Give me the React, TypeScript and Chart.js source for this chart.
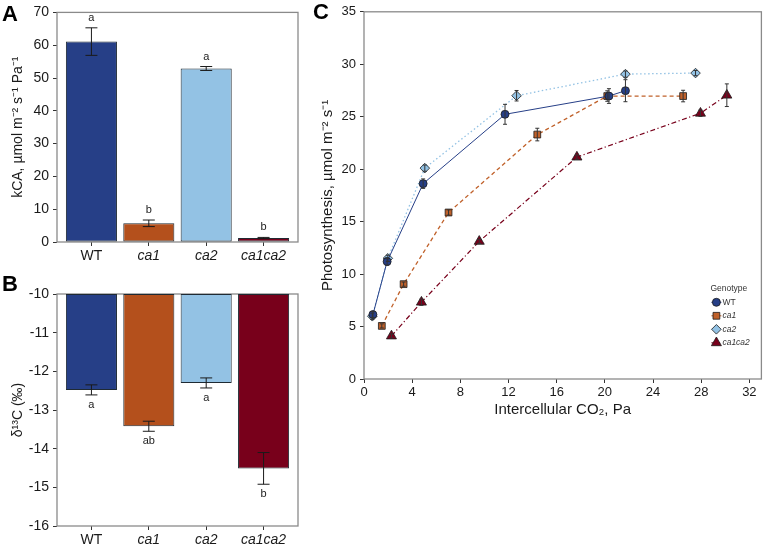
import React, { useEffect, useRef } from 'react';
import { Chart, registerables } from 'chart.js';

Chart.register(...registerables);

const FONT = "'Liberation Sans', Arial, Helvetica, sans-serif";
Chart.defaults.font.family = FONT;

// ---------- data ----------
const genotypes = ['WT', 'ca1', 'ca2', 'ca1ca2'];
const genotypeColors = ['#263f87', '#b4501c', '#93c2e4', '#78001b'];

const kcaValues = [61.1, 5.7, 52.9, 1.2];
const kcaErrors = [4.2, 1.0, 0.6, 0.2];
const kcaLetters = ['a', 'b', 'a', 'b'];
const kcaTicks = [0, 10, 20, 30, 40, 50, 60, 70];

const d13cValues = [-12.48, -13.42, -12.3, -14.51];
const d13cErrors = [0.13, 0.13, 0.13, 0.41];
const d13cLetters = ['a', 'ab', 'a', 'b'];
const d13cTicks = [-10, -11, -12, -13, -14, -15, -16];

const wtCi = [0.74, 1.92, 4.91, 11.71, 20.34, 21.71];
const wtA = [6.14, 11.19, 18.62, 25.23, 26.97, 27.48];
const wtErr = [0.3, 0.35, 0.45, 0.95, 0.7, 1.05];

const ca1Ci = [1.48, 3.29, 7.02, 14.39, 20.2, 26.5];
const ca1A = [5.06, 9.04, 15.87, 23.3, 26.97, 26.97];
const ca1Err = [0.2, 0.2, 0.25, 0.6, 0.5, 0.55];

const ca2Ci = [0.69, 1.98, 5.05, 12.67, 21.71, 27.53];
const ca2A = [5.98, 11.5, 20.1, 27.0, 29.06, 29.16];
const ca2Err = [0.3, 0.3, 0.3, 0.5, 0.3, 0.25];

const dblCi = [2.28, 4.77, 9.57, 17.68, 27.94, 30.13];
const dblA = [4.1, 7.32, 13.12, 21.15, 25.33, 27.05];
const dblErr = [0.2, 0.3, 0.2, 0.2, 0.3, 1.08];

const ciTicks = [0, 4, 8, 12, 16, 20, 24, 28, 32];
const photoTicks = [0, 5, 10, 15, 20, 25, 30, 35];

// ---------- plugins ----------
const framePlugin = {
  id: 'frame',
  beforeDatasetsDraw(chart: any) {
    const { ctx, chartArea: a } = chart;
    ctx.save();
    ctx.strokeStyle = '#8a8a8a';
    ctx.lineWidth = 1.3;
    ctx.strokeRect(a.left, a.top, a.right - a.left, a.bottom - a.top);
    ctx.restore();
  },
};

const errorPlugin = {
  id: 'errbars',
  afterDatasetsDraw(chart: any) {
    const { ctx } = chart;
    const xs = chart.scales.x;
    const ys = chart.scales.y;
    chart.data.datasets.forEach((ds: any) => {
      if (!ds.errorBars) return;
      ds.data.forEach((pt: any, i: number) => {
        const v = Array.isArray(pt.y) ? pt.y[1] : pt.y;
        const e = ds.errorBars[i];
        const x = xs.getPixelForValue(pt.x);
        const y1 = ys.getPixelForValue(v + e);
        const y2 = ys.getPixelForValue(v - e);
        const cap = ds.errorCap;
        ctx.save();
        ctx.strokeStyle = ds.errorColor || '#1a1a1a';
        ctx.lineWidth = ds.errorWidth || 1;
        ctx.beginPath();
        ctx.moveTo(x, y1);
        ctx.lineTo(x, y2);
        ctx.moveTo(x - cap, y1);
        ctx.lineTo(x + cap, y1);
        ctx.moveTo(x - cap, y2);
        ctx.lineTo(x + cap, y2);
        ctx.stroke();
        if (ds.letters) {
          ctx.fillStyle = '#222';
          ctx.font = `11px ${FONT}`;
          ctx.textAlign = 'center';
          ctx.textBaseline = 'middle';
          const ly = ds.letterSide === 'below' ? y2 + 10 : y1 - 10;
          ctx.fillText(ds.letters[i], x, ly);
        }
        ctx.restore();
      });
    });
  },
};

function drawMarker(ctx: CanvasRenderingContext2D, style: string, x: number, y: number, r: number) {
  ctx.beginPath();
  if (style === 'circle') {
    ctx.arc(x, y, r, 0, Math.PI * 2);
  } else if (style === 'rect') {
    const s = r * Math.SQRT1_2;
    ctx.rect(x - s, y - s, 2 * s, 2 * s);
  } else if (style === 'rectRot') {
    ctx.moveTo(x, y - r);
    ctx.lineTo(x + r, y);
    ctx.lineTo(x, y + r);
    ctx.lineTo(x - r, y);
    ctx.closePath();
  } else {
    const a = (2 * Math.PI) / 3;
    ctx.moveTo(x, y - r);
    ctx.lineTo(x + Math.sin(a) * r, y - Math.cos(a) * r);
    ctx.lineTo(x - Math.sin(a) * r, y - Math.cos(a) * r);
    ctx.closePath();
  }
  ctx.fill();
  ctx.stroke();
}

const legendPlugin = {
  id: 'genoLegend',
  afterDraw(chart: any) {
    const { ctx, chartArea: a } = chart;
    const x0 = a.right - 51;
    const y0 = a.top + 277;
    ctx.save();
    ctx.fillStyle = '#333';
    ctx.font = `8.5px ${FONT}`;
    ctx.textAlign = 'left';
    ctx.textBaseline = 'middle';
    ctx.fillText('Genotype', x0, y0);
    chart.data.datasets.forEach((ds: any, i: number) => {
      const y = y0 + 13.5 + i * 13.5;
      const mx = x0 + 6;
      ctx.strokeStyle = ds.borderColor;
      ctx.lineWidth = 1;
      ctx.setLineDash(ds.borderDash || []);
      ctx.beginPath();
      ctx.moveTo(mx - 5, y);
      ctx.lineTo(mx + 5, y);
      ctx.stroke();
      ctx.setLineDash([]);
      ctx.fillStyle = ds.pointBackgroundColor;
      ctx.strokeStyle = ds.pointBorderColor;
      ctx.lineWidth = 0.8;
      drawMarker(ctx, ds.pointStyle, mx, y, ds.pointRadius);
      ctx.fillStyle = '#333';
      ctx.font = `${i === 0 ? 'normal' : 'italic'} 8.5px ${FONT}`;
      ctx.fillText(ds.label, x0 + 12, y);
    });
    ctx.restore();
  },
};

// ---------- bar chart helpers ----------
const tickFont = (ctx: any) => ({ family: FONT, size: 14, style: ctx.index === 0 ? 'normal' : 'italic' });

function barOptions(yMin: number, yMax: number, yTicks: number[], yTitle: string, padTop: number, xHeight: number) {
  return {
    animation: false,
    responsive: false,
    maintainAspectRatio: false,
    layout: { padding: { top: padTop, right: 2, left: 0, bottom: 0 } },
    plugins: { legend: { display: false }, tooltip: { enabled: false } },
    scales: {
      x: {
        type: 'linear',
        min: 0.4,
        max: 4.6,
        offset: false,
        afterBuildTicks: (s: any) => {
          s.ticks = genotypes.map((_, i) => ({ value: i + 1 }));
        },
        afterFit: (s: any) => {
          s.height = xHeight;
        },
        ticks: {
          autoSkip: false,
          maxRotation: 0,
          padding: 2,
          color: '#1a1a1a',
          font: tickFont,
          callback: (v: any) => genotypes[Math.round(v) - 1],
        },
        grid: { display: true, drawOnChartArea: false, drawTicks: true, tickLength: 4, color: '#333', offset: false },
        border: { display: false },
      },
      y: {
        min: yMin,
        max: yMax,
        afterBuildTicks: (s: any) => {
          s.ticks = yTicks.map((v) => ({ value: v }));
        },
        afterFit: (s: any) => {
          s.width = 57;
        },
        ticks: { padding: 4, color: '#1a1a1a', font: { family: FONT, size: 14 } },
        grid: { display: true, drawOnChartArea: false, drawTicks: true, tickLength: 4, color: '#333' },
        border: { display: false },
        title: {
          display: true,
          text: yTitle,
          color: '#1a1a1a',
          font: { family: FONT, size: 14 },
          padding: { top: 10, bottom: 0 },
        },
      },
    },
  };
}

function KcaChart() {
  const ref = useRef<HTMLCanvasElement>(null);
  useEffect(() => {
    const chart = new Chart(ref.current as HTMLCanvasElement, {
      type: 'bar',
      data: {
        datasets: [
          {
            data: genotypes.map((_, i) => ({ x: i + 1, y: kcaValues[i] })),
            backgroundColor: genotypeColors,
            borderColor: '#1f2a33',
            borderWidth: 1,
            borderSkipped: false,
            barPercentage: 0.89,
            categoryPercentage: 1,
            clip: 3,
            errorBars: kcaErrors,
            errorCap: 6,
            letters: kcaLetters,
            letterSide: 'above',
          } as any,
        ],
      },
      options: barOptions(0, 70, kcaTicks, 'kCA, µmol m⁻² s⁻¹ Pa⁻¹', 10, 20) as any,
      plugins: [framePlugin, errorPlugin],
    });
    return () => chart.destroy();
  }, []);
  return <canvas ref={ref} width={300} height={262} style={{ position: 'absolute', left: 0, top: 0, width: 300, height: 262 }} />;
}

function D13cChart() {
  const ref = useRef<HTMLCanvasElement>(null);
  useEffect(() => {
    const chart = new Chart(ref.current as HTMLCanvasElement, {
      type: 'bar',
      data: {
        datasets: [
          {
            data: genotypes.map((_, i) => ({ x: i + 1, y: [-10, d13cValues[i]] })),
            backgroundColor: genotypeColors,
            borderColor: '#1f2a33',
            borderWidth: 1,
            borderSkipped: false,
            barPercentage: 0.89,
            categoryPercentage: 1,
            clip: 3,
            errorBars: d13cErrors,
            errorCap: 6,
            letters: d13cLetters,
            letterSide: 'below',
          } as any,
        ],
      },
      options: barOptions(-16, -10, d13cTicks, 'δ¹³C (‰)', 32, 19) as any,
      plugins: [framePlugin, errorPlugin],
    });
    return () => chart.destroy();
  }, []);
  return <canvas ref={ref} width={300} height={283} style={{ position: 'absolute', left: 0, top: 262, width: 300, height: 283 }} />;
}

function series(label: string, xs: number[], ys: number[], errs: number[], color: string, style: string, radius: number, dash: number[], lineWidth: number) {
  return {
    label,
    data: xs.map((x, i) => ({ x, y: ys[i] })),
    showLine: true,
    borderColor: color,
    borderWidth: lineWidth,
    borderDash: dash,
    pointStyle: style,
    pointRadius: radius,
    pointBackgroundColor: color,
    pointBorderColor: '#1b1b1b',
    pointBorderWidth: 0.8,
    errorBars: errs,
    errorCap: 2,
    errorColor: '#333',
    errorWidth: 1,
  };
}

function PhotoChart() {
  const ref = useRef<HTMLCanvasElement>(null);
  useEffect(() => {
    const chart = new Chart(ref.current as HTMLCanvasElement, {
      type: 'scatter',
      data: {
        datasets: [
          series('WT', wtCi, wtA, wtErr, genotypeColors[0], 'circle', 4, [], 1),
          series('ca1', ca1Ci, ca1A, ca1Err, '#c0612a', 'rect', 4.8, [4, 3], 1.3),
          series('ca2', ca2Ci, ca2A, ca2Err, genotypeColors[2], 'rectRot', 4.8, [1.5, 2.5], 1.3),
          series('ca1ca2', dblCi, dblA, dblErr, genotypeColors[3], 'triangle', 5.8, [5, 2.5, 1.2, 2.5], 1.2),
        ] as any,
      },
      options: {
        animation: false,
        responsive: false,
        maintainAspectRatio: false,
        layout: { padding: { top: 10, right: 3, left: 0, bottom: 0 } },
        plugins: { legend: { display: false }, tooltip: { enabled: false } },
        scales: {
          x: {
            type: 'linear',
            min: 0,
            max: 33,
            afterBuildTicks: (s: any) => {
              s.ticks = ciTicks.map((v) => ({ value: v }));
            },
            afterFit: (s: any) => {
              s.height = 41;
            },
            ticks: { padding: 2, color: '#1a1a1a', maxRotation: 0, autoSkip: false, font: { family: FONT, size: 13 } },
            grid: { display: true, drawOnChartArea: false, drawTicks: true, tickLength: 4, color: '#333' },
            border: { display: false },
            title: {
              display: true,
              text: 'Intercellular CO₂, Pa',
              color: '#1a1a1a',
              font: { family: FONT, size: 15 },
              padding: { top: 0, bottom: 1 },
            },
          },
          y: {
            min: 0,
            max: 35,
            afterBuildTicks: (s: any) => {
              s.ticks = photoTicks.map((v) => ({ value: v }));
            },
            afterFit: (s: any) => {
              s.width = 64;
            },
            ticks: { padding: 4, color: '#1a1a1a', font: { family: FONT, size: 13 } },
            grid: { display: true, drawOnChartArea: false, drawTicks: true, tickLength: 4, color: '#333' },
            border: { display: false },
            title: {
              display: true,
              text: 'Photosynthesis, µmol m⁻² s⁻¹',
              color: '#1a1a1a',
              font: { family: FONT, size: 15 },
              padding: { top: 19, bottom: 0 },
            },
          },
        },
      } as any,
      plugins: [framePlugin, errorPlugin, legendPlugin],
    });
    return () => chart.destroy();
  }, []);
  return <canvas ref={ref} width={468} height={420} style={{ position: 'absolute', left: 300, top: 0, width: 468, height: 420 }} />;
}

const letterStyle: React.CSSProperties = {
  position: 'absolute',
  fontFamily: FONT,
  fontWeight: 'bold',
  fontSize: 22,
  lineHeight: '22px',
  color: '#000',
};

export default function App() {
  return (
    <div style={{ position: 'absolute', left: 0, top: 0, width: 768, height: 545, background: '#fff', overflow: 'hidden' }}>
      <KcaChart />
      <D13cChart />
      <PhotoChart />
      <div style={{ ...letterStyle, left: 2, top: 3 }}>A</div>
      <div style={{ ...letterStyle, left: 2, top: 273 }}>B</div>
      <div style={{ ...letterStyle, left: 313, top: 1 }}>C</div>
    </div>
  );
}
